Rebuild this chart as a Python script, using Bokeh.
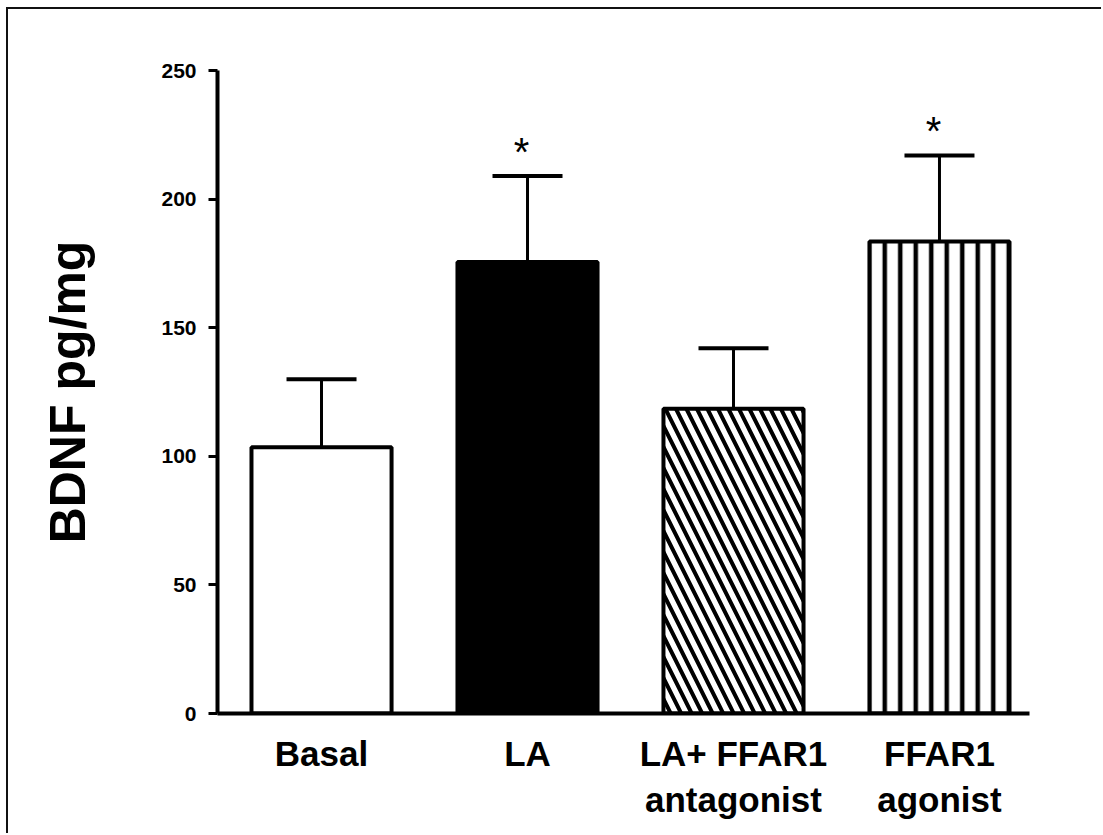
from bokeh.plotting import figure
from bokeh.models import ColumnDataSource, FixedTicker, Range1d, Whisker, TeeHead
from bokeh.embed import file_html
from bokeh.resources import INLINE
from bokeh.core.properties import value

# ---- data ----
groups = ["Basal", "LA", "LA+ FFAR1\nantagonist", "FFAR1\nagonist"]
means = [103.5, 175.5, 118.5, 183.5]
upper = [130.0, 209.0, 142.0, 217.0]
marks = ["", "*", "", "*"]
y_ticks = [0, 50, 100, 150, 200, 250]

xs = list(range(len(groups)))
FONT = "Liberation Sans"

p = figure(width=1095, height=826,
           x_range=Range1d(-0.505, 3.437), y_range=Range1d(0, 250),
           output_backend="svg", toolbar_location=None,
           min_border_left=209, min_border_right=74,
           min_border_top=61, min_border_bottom=122)
p.margin = (7, 0, 0, 6)
p.styles = {"border-left": "2px solid #111", "border-top": "2px solid #111"}

p.grid.visible = False
p.outline_line_color = None
p.background_fill_color = "white"
p.border_fill_color = "white"

bw = 0.68
styles = [
    dict(fill_color="white"),
    dict(fill_color="black"),
    dict(fill_color="white", hatch_pattern="left_diagonal_line",
         hatch_color="black", hatch_scale=21, hatch_weight=4),
    dict(fill_color="white", hatch_pattern="vertical_line",
         hatch_color="black", hatch_scale=15.5, hatch_weight=4.5),
]
for i in xs:
    src = ColumnDataSource(dict(x=[xs[i]], top=[means[i]]))
    p.vbar(x="x", top="top", bottom=0, width=bw, source=src,
           line_color="black", line_width=4, **styles[i])

err_src = ColumnDataSource(dict(x=xs, lower=means, upper=upper, mark=marks))
wh = Whisker(base="x", lower="lower", upper="upper", source=err_src,
             line_color="black", line_width=3,
             upper_head=TeeHead(size=70, line_width=4, line_color="black"),
             lower_head=None)
p.add_layout(wh)

p.text(x="x", y="upper", text="mark", source=err_src,
       text_align="center", text_baseline="bottom",
       x_offset=-6, y_offset=-2,
       text_font=value(FONT), text_font_size="40px", text_color="black")

# y axis
ya = p.yaxis[0]
ya.ticker = FixedTicker(ticks=y_ticks)
ya.axis_line_width = 4
ya.axis_line_color = "black"
ya.major_tick_line_width = 3
ya.major_tick_out = 9
ya.major_tick_in = 0
ya.minor_tick_line_color = None
ya.major_label_text_font = FONT
ya.major_label_text_font_style = "bold"
ya.major_label_text_font_size = "21px"
ya.major_label_text_color = "black"
ya.major_label_standoff = 12
ya.axis_label = "BDNF pg/mg"
ya.axis_label_text_font = FONT
ya.axis_label_text_font_style = "bold"
ya.axis_label_text_font_size = "50px"
ya.axis_label_text_color = "black"
ya.axis_label_standoff = 62

# x axis
xa = p.xaxis[0]
xa.ticker = FixedTicker(ticks=xs)
xa.major_label_overrides = {i: g for i, g in zip(xs, groups)}
xa.axis_line_width = 4
xa.axis_line_color = "black"
xa.major_tick_line_color = None
xa.minor_tick_line_color = None
xa.major_label_text_font = FONT
xa.major_label_text_font_style = "bold"
xa.major_label_text_font_size = "35px"
xa.major_label_text_color = "black"
xa.major_label_standoff = 14

open("out.html", "w").write(file_html(p, INLINE))
